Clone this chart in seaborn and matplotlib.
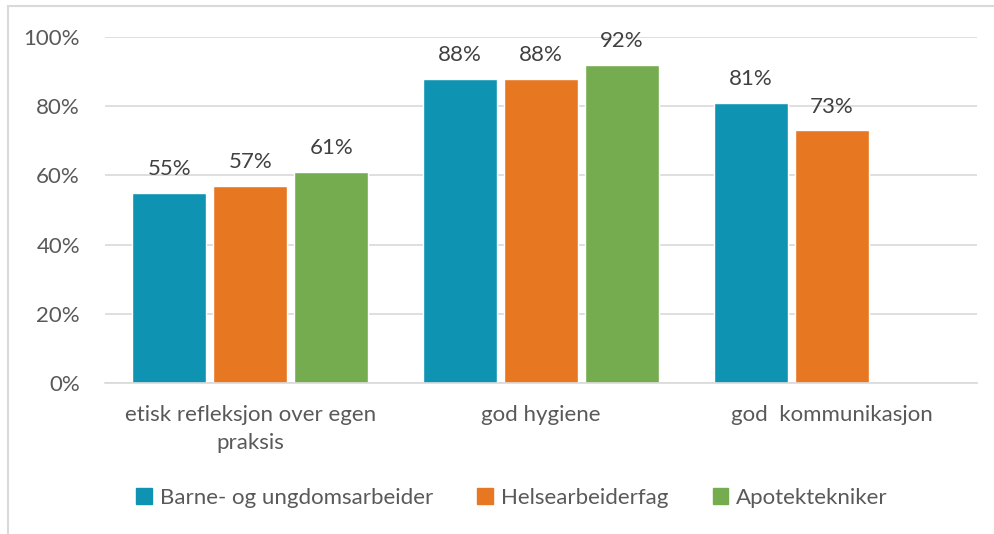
import matplotlib
matplotlib.use("Agg")
import matplotlib.pyplot as plt
import matplotlib.patches as mpatches
import seaborn as sns
import pandas as pd

categories = ["etisk refleksjon over egen\npraksis", "god hygiene", "god  kommunikasjon"]
series = ["Barne- og ungdomsarbeider", "Helsearbeiderfag", "Apotektekniker"]
barne = [55, 88, 81]
helse = [57, 88, 73]
apotek = [61, 92, None]
colors = ["#0E94B2", "#E87722", "#76AC50"]

rows = []
for name, vals in zip(series, [barne, helse, apotek]):
    for cat, v in zip(categories, vals):
        if v is not None:
            rows.append({"kategori": cat, "gruppe": name, "andel": v})
df = pd.DataFrame(rows)

sns.set_theme(style="white")
plt.rcParams["font.family"] = ["Lato", "DejaVu Sans"]
text_color = "#595959"
grid_color = "#D9D9D9"
fs = 16

fig = plt.figure(figsize=(9.95, 5.34), dpi=100)
ax = fig.add_axes([105 / 995, 1 - 383 / 534, 872 / 995, 346 / 534])

sns.barplot(data=df, x="kategori", y="andel", hue="gruppe",
            order=categories, hue_order=series, palette=colors,
            width=0.836, gap=0.09, ax=ax, legend=False,
            saturation=1, errorbar=None)

for cont in ax.containers:
    ax.bar_label(cont, labels=[f"{v:.0f}%" for v in cont.datavalues],
                 padding=10, fontsize=fs, color="#404040")

ax.set_ylim(0, 100)
ax.set_xlim(-0.5, 2.5)
ax.set_yticks(range(0, 101, 20))
ax.set_yticklabels([f"{t}%" for t in range(0, 101, 20)])
ax.yaxis.grid(True, color=grid_color, linewidth=1.2)
ax.set_axisbelow(True)
for s in ["top", "right", "left"]:
    ax.spines[s].set_visible(False)
ax.spines["bottom"].set_color(grid_color)
ax.spines["bottom"].set_linewidth(1.2)
ax.set_xlabel("")
ax.set_ylabel("")
ax.tick_params(axis="y", length=0, pad=18, labelsize=fs, labelcolor=text_color)
ax.tick_params(axis="x", length=0, pad=16, labelsize=fs, labelcolor=text_color)
for lbl in ax.get_xticklabels():
    lbl.set_linespacing(1.5)

handles = [mpatches.Patch(color=c, label=s) for c, s in zip(colors, series)]
fig.legend(handles=handles, loc="center", bbox_to_anchor=(512 / 995, 1 - 498 / 534),
           ncol=3, frameon=False, fontsize=fs, labelcolor=text_color,
           handlelength=0.7, handleheight=0.7, handletextpad=0.35, columnspacing=2.0)

# outer chart frame
fig.add_artist(mpatches.Rectangle((8 / 995, -0.2), 1.2, 1.2 - 6 / 534,
                                  transform=fig.transFigure, fill=False,
                                  edgecolor=grid_color, linewidth=1.5, clip_on=False))

fig.savefig("out.png", dpi=100, facecolor="white")
